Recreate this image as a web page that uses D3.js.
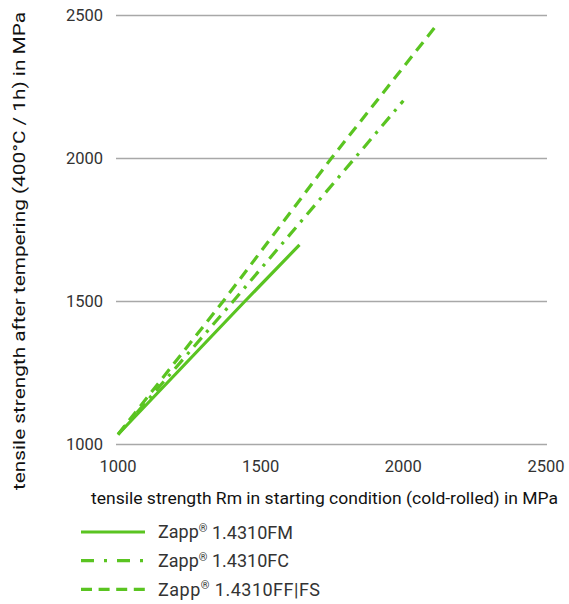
<!DOCTYPE html>
<html><head><meta charset="utf-8">
<script src="https://cdn.jsdelivr.net/npm/d3@7"></script>
<style>
html,body{margin:0;padding:0;background:#fff;}
svg{display:block;font-family:Roboto, "Liberation Sans", sans-serif;}
</style></head>
<body><svg id="c" width="569" height="604"></svg>
<script>
const xTicks = [1000, 1500, 2000, 2500];
const yTicks = [1000, 1500, 2000, 2500];
const seriesNames = ["Zapp® 1.4310FM", "Zapp® 1.4310FC", "Zapp® 1.4310FF|FS"];
const fmX = [1000, 1444, 1636];
const fmY = [1035, 1500, 1698];
const fcX = [1000, 1403, 1829, 2000];
const fcY = [1035, 1500, 2000, 2202];
const ffX = [1000, 1368, 1747, 2114];
const ffY = [1035, 1500, 2000, 2463];
const xTitle = "tensile strength Rm in starting condition (cold-rolled) in MPa";
const yTitle = "tensile strength after tempering (400°C / 1h) in MPa";

const green = "#5ac421";
const dashes = [null, "12,7,3,7", "11,7"];
const legendLen = [135, 131, 162];
const series = [
  {name: seriesNames[0], pts: fmX.map((x,i)=>[x, fmY[i]]), dash: dashes[0]},
  {name: seriesNames[1], pts: fcX.map((x,i)=>[x, fcY[i]]), dash: dashes[1]},
  {name: seriesNames[2], pts: ffX.map((x,i)=>[x, ffY[i]]), dash: dashes[2]}
];

const svg = d3.select("#c");
const x = d3.scaleLinear().domain([1000, 2500]).range([118, 546]);
const y = d3.scaleLinear().domain([1000, 2500]).range([444.5, 15.5]);

// gridlines
svg.append("g").selectAll("line").data(yTicks).join("line")
  .attr("x1", 116).attr("x2", 547)
  .attr("y1", d => y(d)).attr("y2", d => y(d))
  .attr("stroke", "#a8a8a8").attr("stroke-width", 1.5);

// y tick labels
svg.append("g").selectAll("text").data(yTicks).join("text")
  .attr("x", 103).attr("y", d => y(d)).attr("dy", "0.35em")
  .attr("text-anchor", "end").attr("font-size", 16.5).attr("fill", "#333")
  .text(d => d);

// x tick labels
svg.append("g").selectAll("text").data(xTicks).join("text")
  .attr("x", d => x(d)).attr("y", 466).attr("dy", "0.35em")
  .attr("text-anchor", "middle").attr("font-size", 16.5).attr("fill", "#333")
  .text(d => d);

// lines
const line = d3.line().x(d => x(d[0])).y(d => y(d[1]));
svg.append("g").selectAll("path").data(series).join("path")
  .attr("d", d => line(d.pts))
  .attr("fill", "none").attr("stroke", green).attr("stroke-width", 3.2)
  .attr("stroke-dasharray", d => d.dash);

// axis titles
svg.append("text").attr("x", 324.5).attr("y", 504)
  .attr("text-anchor", "middle").attr("font-size", 16).attr("fill", "#111")
  .attr("textLength", 467).attr("lengthAdjust", "spacingAndGlyphs")
  .text(xTitle);
svg.append("text").attr("transform", "translate(25,251) rotate(-90)")
  .attr("text-anchor", "middle").attr("font-size", 16).attr("fill", "#111")
  .attr("textLength", 478).attr("lengthAdjust", "spacingAndGlyphs")
  .text(yTitle);

// legend
const leg = svg.append("g").selectAll("g").data(series).join("g")
  .attr("transform", (d, i) => `translate(0,${532 + i * 28.7})`);
leg.append("line").attr("x1", 81).attr("x2", 145).attr("y1", 0).attr("y2", 0)
  .attr("stroke", green).attr("stroke-width", 3.2)
  .attr("stroke-dasharray", (d, i) => i === 0 ? null : (i === 1 ? "13,10,3,10" : "11,6.6"));
const lt = leg.append("text").attr("x", 158).attr("y", 0).attr("dy", "0.36em")
  .attr("font-size", 18).attr("fill", "#333")
  .attr("textLength", (d, i) => legendLen[i]).attr("lengthAdjust", "spacing");
lt.each(function(d) {
  const t = d3.select(this);
  const parts = d.name.split("®");
  t.append("tspan").text(parts[0]);
  t.append("tspan").attr("font-size", 11).attr("dy", "-0.6em").text("®");
  t.append("tspan").attr("dy", "0.37em").text(parts[1]);
});
</script></body></html>
